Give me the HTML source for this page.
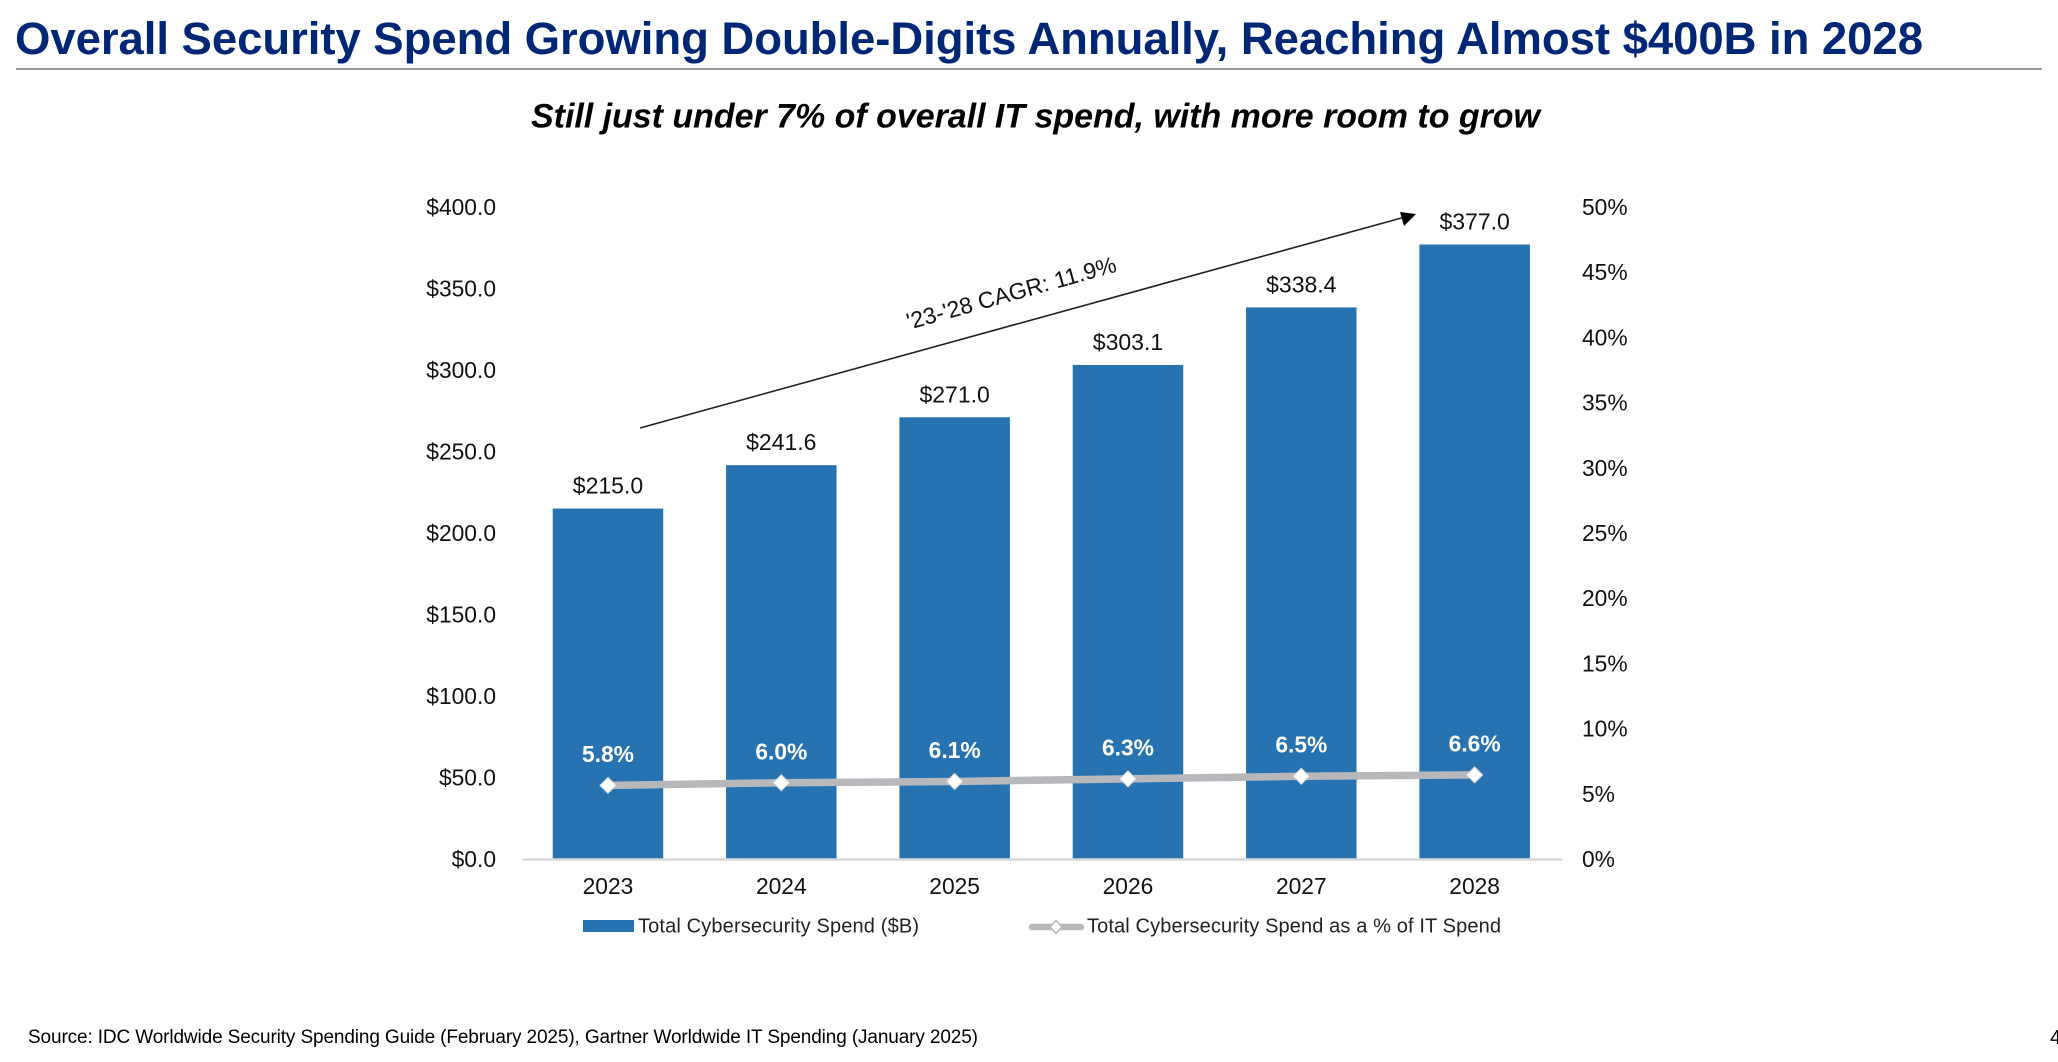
<!DOCTYPE html>
<html lang="en">
<head>
<meta charset="utf-8">
<title>Overall Security Spend</title>
<style>
  html, body { margin: 0; padding: 0; background: #fff; }
  body { width: 2058px; height: 1062px; overflow: hidden; }
  svg { display: block; font-family: "Liberation Sans", Arial, sans-serif; }
</style>
</head>
<body>
<svg id="slide" xmlns="http://www.w3.org/2000/svg" width="2058" height="1062" viewBox="0 0 2058 1062">
  <rect x="0" y="0" width="2058" height="1062" fill="#ffffff"/>
  <text x="15" y="54" font-size="45.5" font-weight="700" fill="#002776" textLength="1908" lengthAdjust="spacing">Overall Security Spend Growing Double-Digits Annually, Reaching Almost $400B in 2028</text>
  <rect x="16" y="68" width="2026" height="2" fill="#999999"/>
  <text x="531" y="127.5" font-size="34" font-weight="700" font-style="italic" fill="#000000" textLength="1009" lengthAdjust="spacing">Still just under 7% of overall IT spend, with more room to grow</text>
  <g id="chart"></g>
  <g>
    <line x1="640" y1="428" x2="1405" y2="217" stroke="#222222" stroke-width="1.6"/>
    <polygon points="1416,214 1400,212 1404,226" fill="#000000"/>
    <text transform="translate(1013.5 300.5) rotate(-15.6)" text-anchor="middle" font-size="23" fill="#111111">'23-'28 CAGR: 11.9%</text>
  </g>
  <g>
    <rect x="583" y="920" width="51" height="12" fill="#2773b2"/>
    <text x="638" y="932.5" font-size="20" fill="#222222" textLength="281" lengthAdjust="spacing">Total Cybersecurity Spend ($B)</text>
    <line x1="1032" y1="927" x2="1081" y2="927" stroke="#b7b8bb" stroke-width="6.5" stroke-linecap="round"/>
    <polygon points="1056,920.5 1062,927 1056,933.5 1050,927" fill="#ffffff" stroke="#b7b8bb" stroke-width="1.5"/>
    <text x="1087" y="932.5" font-size="20" fill="#222222" textLength="414" lengthAdjust="spacing">Total Cybersecurity Spend as a % of IT Spend</text>
  </g>
  <text x="28" y="1043" font-size="19" fill="#000000" textLength="950" lengthAdjust="spacing">Source: IDC Worldwide Security Spending Guide (February 2025), Gartner Worldwide IT Spending (January 2025)</text>
  <text x="2050" y="1044" font-size="20" fill="#000000">4</text>
</svg>
<script>
const categories = ['2023', '2024', '2025', '2026', '2027', '2028'];
const spendValues = [215.0, 241.6, 271.0, 303.1, 338.4, 377.0];
const percentValues = [5.8, 6.0, 6.1, 6.3, 6.5, 6.6];
const leftTicks = [0, 50, 100, 150, 200, 250, 300, 350, 400];
const rightTicks = [0, 5, 10, 15, 20, 25, 30, 35, 40, 45, 50];

const NS = 'http://www.w3.org/2000/svg';
const chart = document.getElementById('chart');
const plotLeft = 522, plotRight = 1562, plotBase = 859, plotTop = 207;
const pctBase = 861.3;
const band = (plotRight - plotLeft) / categories.length;
const barWidth = 110.5;

function xScale(i) { return plotLeft + band * i + band / 2 - 0.7; }
function yLeft(v) { return plotBase - (v / 400) * (plotBase - plotTop); }
function yRight(v) { return pctBase - (v / 50) * (pctBase - plotTop); }

function make(tag, attrs, text) {
  const el = document.createElementNS(NS, tag);
  for (const k in attrs) el.setAttribute(k, attrs[k]);
  if (text !== undefined) el.textContent = text;
  chart.appendChild(el);
  return el;
}

leftTicks.forEach(function (t) {
  const el = make('text', { x: 496, y: yLeft(t) + 8, 'text-anchor': 'end', 'font-size': 22.8, fill: '#111111' }, '$' + t.toFixed(1));
  
  
});

rightTicks.forEach(function (t) {
  const el = make('text', { x: 1582, y: plotBase - (t / 50) * (plotBase - plotTop) + 8, 'font-size': 22.8, fill: '#111111' }, t + '%');
  
  
});

spendValues.forEach(function (v, i) {
  const top = yLeft(v);
  const bar = make('rect', { x: xScale(i) - barWidth / 2, y: top, width: barWidth, height: plotBase - top, fill: '#2773b2' });
  
  
  const label = make('text', { x: xScale(i), y: top - 15, 'text-anchor': 'middle', 'font-size': 23, fill: '#111111' }, '$' + v.toFixed(1));
  
  
});

const axisLine = make('line', { x1: plotLeft, y1: plotBase + 0.5, x2: plotRight, y2: plotBase + 0.5, stroke: '#d9d9d9', 'stroke-width': 2.5 });



categories.forEach(function (c, i) {
  const el = make('text', { x: xScale(i), y: 894, 'text-anchor': 'middle', 'font-size': 22.8, fill: '#111111' }, c);
  
  
});

const linePoints = percentValues.map(function (v, i) { return xScale(i) + ',' + yRight(v); }).join(' ');
const pctLine = make('polyline', { points: linePoints, fill: 'none', stroke: '#b7b8bb', 'stroke-width': 7.5 });



percentValues.forEach(function (v, i) {
  const cx = xScale(i), cy = yRight(v), r = 8;
  const marker = make('polygon', { points: [cx, cy - r, cx + r, cy, cx, cy + r, cx - r, cy].join(','), fill: '#ffffff', stroke: '#d8d8da', 'stroke-width': 1 });
  
  
  const label = make('text', { x: cx, y: cy - 23.5, 'text-anchor': 'middle', 'font-size': 22.8, 'font-weight': 700, fill: '#ffffff' }, v.toFixed(1) + '%');
  
  
});
</script>
</body>
</html>
